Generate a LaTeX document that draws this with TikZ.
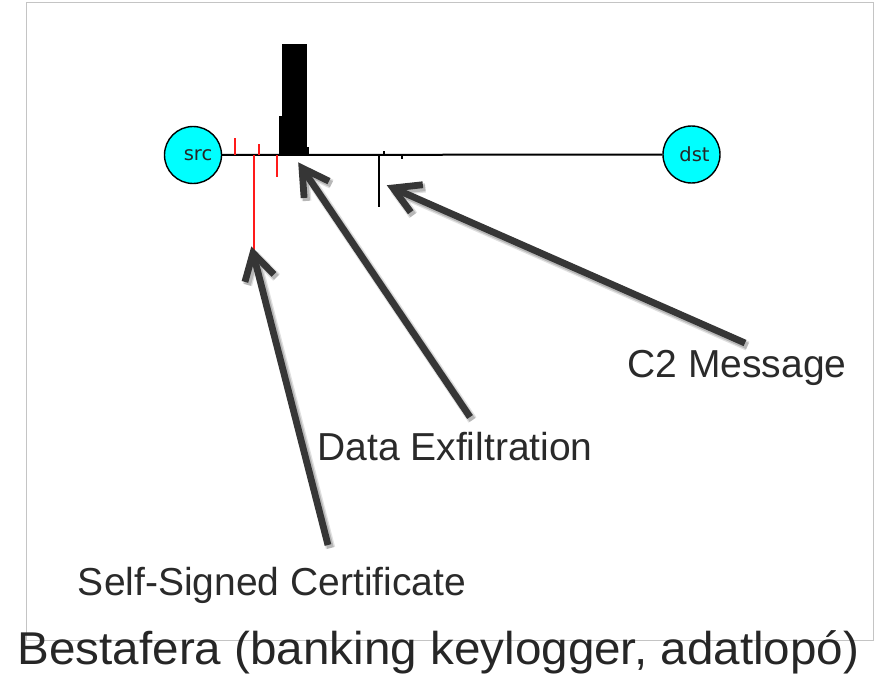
\documentclass[tikz,border=0pt]{standalone}
\usepackage{fontspec}
\setmainfont{Liberation Sans}
\newfontfamily\hostfont{DejaVu Sans}
\usetikzlibrary{calc}

\definecolor{hostfill}{HTML}{00FFFF}
\definecolor{pointer}{HTML}{363636}
\definecolor{labeltext}{HTML}{2A2A2A}
\definecolor{framegray}{HTML}{C4C4C4}
\definecolor{flowred}{HTML}{FF1A1A}

\tikzset{
  host/.style={circle, draw=black, line width=1.4pt, fill=hostfill,
    minimum size=57pt, inner sep=0pt},
  hostlabel/.style={font=\hostfont\fontsize{19.5}{22}\selectfont, text=black!85, inner sep=0pt},
  flowline/.style={draw=black, line width=2pt},
  redtick/.style={draw=flowred, line width=1.8pt},
  blacktick/.style={draw=black, line width=1.8pt},
  callout/.style={font=\fontsize{39}{44}\selectfont, text=labeltext, anchor=base, inner sep=0pt},
  caption/.style={font=\fontsize{46}{52}\selectfont, text=black!85, anchor=base, inner sep=0pt},
  pointershadow/.style={draw=black, line cap=butt, line join=round},
  pointerline/.style={draw=pointer, line width=6.8pt, line cap=butt, line join=miter},
}

% thick callout arrow: #1 = tail coordinate, #2 = tip coordinate
\newcommand\calloutarrow[2]{%
  \begin{scope}[transform canvas={shift={(2.5pt,-3pt)}}]
    \draw[pointershadow, line width=9.5pt, opacity=0.12]
      (#1) -- ($(#2)!4pt!(#1)$)
      ($(#2)!30pt!30:(#1)$) -- (#2) -- ($(#2)!30pt!-30:(#1)$);
    \draw[pointershadow, line width=6.8pt, opacity=0.18]
      (#1) -- ($(#2)!4pt!(#1)$)
      ($(#2)!30pt!30:(#1)$) -- (#2) -- ($(#2)!30pt!-30:(#1)$);
  \end{scope}
  \draw[pointerline] (#1) -- ($(#2)!4pt!(#1)$);
  \draw[pointerline] ($(#2)!30pt!30:(#1)$) -- (#2) -- ($(#2)!30pt!-30:(#1)$);
}

\begin{document}
\begin{tikzpicture}[x=1pt, y=-1pt]
  \useasboundingbox (0,0) rectangle (883,674);
  \fill[white] (0,0) rectangle (883,674);

  % panel frame
  \draw[framegray, line width=1pt] (26,3) rectangle (873,640);

  % hosts and the flow line between them
  \node[host, label={[hostlabel, xshift=5pt]center:src}] (src) at (193,155) {};
  \node[host, label={[hostlabel, xshift=3pt]center:dst}] (dst) at (691.5,154.5) {};
  \draw[flowline] (src) -- (dst);

  % red packet marks
  \draw[redtick] (235,155) -- (235,138);
  \draw[redtick] (259,155) -- (259,144);
  \draw[redtick] (254,155) -- (254,252);
  \draw[redtick] (277,155) -- (277,177);

  % bulk transfer block
  \fill[black] (282,44) rectangle (307,155);
  \fill[black] (279,116) rectangle (283,155);
  \fill[black] (306,147) rectangle (309,155);

  % black packet marks
  \draw[blacktick] (379,155) -- (379,207);
  \draw[blacktick] (384,155) -- (384,151);
  \draw[blacktick] (402,155) -- (402,159);

  % callout anchors
  \coordinate (certTip) at (253,253);
  \coordinate (certTail) at (328,545);
  \coordinate (exfilTip) at (302,168);
  \coordinate (exfilTail) at (470,417);
  \coordinate (ccTip) at (393,188);
  \coordinate (ccTail) at (745,343);

  \calloutarrow{certTail}{certTip}
  \calloutarrow{exfilTail}{exfilTip}
  \calloutarrow{ccTail}{ccTip}

  % callout texts
  \node[callout] (ccText) at (737,377) {C2 Message};
  \node[callout] (exfilText) at (455,460) {Data Exfiltration};
  \node[callout] (certText) at (272,595) {Self-Signed Certificate};

  % caption
  \node[caption] (title) at (438.5,664) {\scalebox{1.035}[1]{Bestafera (banking keylogger, adatlopó)}};
\end{tikzpicture}
\end{document}
